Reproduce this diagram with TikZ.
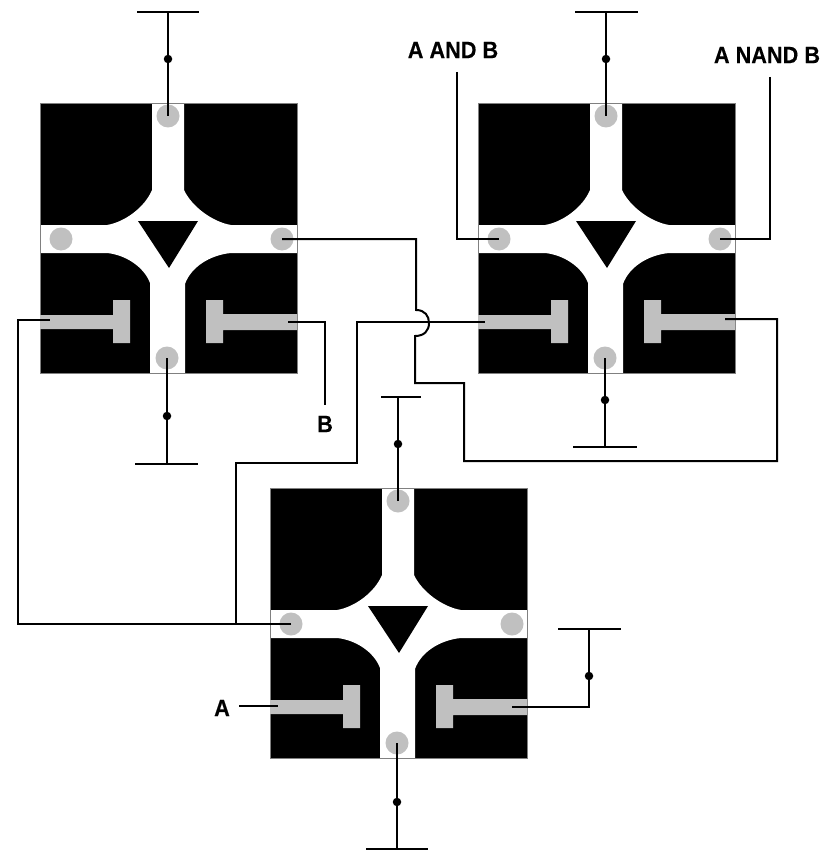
\documentclass[tikz,border=0pt]{standalone}
\usepackage{graphicx}
\usepackage{fontspec}
\setmainfont{Liberation Sans}[BoldFeatures={FakeBold=0.3}]
\definecolor{gategrey}{HTML}{C0C0C0}
\definecolor{edgegrey}{HTML}{808080}
\newcommand{\labeltext}[1]{\scalebox{1.01}[1.1]{#1}}
\tikzset{
  x=1pt,y=-1pt,
  wire/.style={line width=2pt,black,line join=miter},
  rail/.style={line width=2pt,black},
  contact/.style={circle,fill=gategrey,draw=none,inner sep=0pt,minimum size=23pt},
  tap/.style={circle,fill=black,draw=none,inner sep=0pt,minimum size=8.5pt},
  lab/.style={inner sep=0pt,font=\fontsize{21.5}{24}\selectfont\bfseries,text=black},
  body/.style={fill=black,draw=none},
  channel/.style={fill=white,draw=none},
  outline/.style={draw=edgegrey,line width=0.8pt},
  gate/.style={fill=gategrey,draw=none},
}
\newcommand{\fetdevice}[3]{%
\begin{scope}[shift={(#2,#3)}]
  \path[body] (40,103) rectangle (297,373);
  \path[channel] (152,103) -- (152,190) .. controls (145,207) and (125,222) .. (107,225)
    -- (40,225) -- (40,253) -- (107,253) .. controls (126,255) and (144,267) .. (150,283)
    -- (150,373) -- (185,373) -- (185,284) .. controls (191,267) and (210,255) .. (231,253)
    -- (297,253) -- (297,225) -- (231,225) .. controls (213,222) and (192,207) .. (184,190)
    -- (184,103) -- cycle;
  \path[outline] (40,103) rectangle (297,373);
  \fill[black] (138,221) -- (198,221) -- (169,268) -- cycle;
  \path[gate] (40,315) -- (113,315) -- (113,300) -- (130,300) -- (130,343) -- (113,343) -- (113,329) -- (40,329) -- cycle;
  \path[gate] (297,314) -- (223,314) -- (223,300) -- (206,300) -- (206,343) -- (223,343) -- (223,330) -- (297,330) -- cycle;
  \node[contact] (#1t) at (168,116) {};
  \node[contact] (#1b) at (167,358) {};
  \node[contact] (#1l) at (61,239) {};
  \node[contact] (#1r) at (282,239) {};
\end{scope}}
\begin{document}
\begin{tikzpicture}
\useasboundingbox (0,0) rectangle (825,853);
\fetdevice{da}{0}{0}
\fetdevice{db}{438}{0}
\fetdevice{dc}{230}{385}

% supply bars
\coordinate (aT1) at (137,12); \coordinate (aT2) at (199,12); \coordinate (aT) at (168,12);
\coordinate (aB1) at (135,464); \coordinate (aB2) at (198,464); \coordinate (aB) at (167,464);
\coordinate (bT1) at (575,12); \coordinate (bT2) at (638,12); \coordinate (bT) at (606,12);
\coordinate (bB1) at (573,447); \coordinate (bB2) at (637,447); \coordinate (bB) at (605,447);
\coordinate (cT1) at (381,397); \coordinate (cT2) at (421,397); \coordinate (cT) at (398,397);
\coordinate (cB1) at (366,849); \coordinate (cB2) at (428,849); \coordinate (cB) at (397,849);
\coordinate (cR1) at (558,629); \coordinate (cR2) at (621,629); \coordinate (cR) at (589,629);
\foreach \p in {aT,aB,bT,bB,cT,cB,cR}{\draw[rail] (\p1) -- (\p2);}

% gate wire ends
\coordinate (agl) at (50,320);
\coordinate (agr) at (288,322);
\coordinate (bgl) at (485,322);
\coordinate (bgr) at (725,319);
\coordinate (cgl) at (278,706);
\coordinate (cgr) at (512,707);
\coordinate (cin) at (239,706);
\coordinate (branch) at (236,624);
\coordinate (aend) at (325,405);
\coordinate (andend) at (457,72);
\coordinate (nandend) at (770,77);

% rails with taps
\draw[rail] (dat.center) -- (aT);
\draw[rail] (dab.center) -- (aB);
\draw[rail] (dbt.center) -- (bT);
\draw[rail] (dbb.center) -- (bB);
\draw[rail] (dct.center) -- (cT);
\draw[rail] (dcb.center) -- (cB);
\node[tap] (ta1) at (168,59) {};
\node[tap] (ta2) at (167,416) {};
\node[tap] (tb1) at (606,59) {};
\node[tap] (tb2) at (605,400) {};
\node[tap] (tc1) at (398,444) {};
\node[tap] (tc2) at (397,802) {};
\node[tap] (tc3) at (589,676) {};

% wires
\draw[wire] (cgr) -- (589,707) -- (cR);
\draw[wire] (cin) -- (cgl);
\draw[wire] (dcl.center) -- (18,624) -- (18,320) -- (agl);
\draw[wire] (branch) -- (236,463) -- (357,463) -- (357,322) -- (bgl);
\draw[wire] (agr) -- (325,322) -- (aend);
\draw[wire] (andend) -- (457,239) -- (dbl.center);
\draw[wire] (nandend) -- (770,239) -- (dbr.center);
\draw[wire] (dar.center) -- (416,239) -- (416,310)
  .. controls (425,310) and (429,316) .. (429,323)
  .. controls (429,331) and (424,336) .. (415,336)
  -- (415,383) -- (464,383) -- (464,461) -- (777,461) -- (777,319) -- (bgr);

% labels
\node[lab] (la) at (222,708) {\labeltext{A}};
\node[lab] (lb) at (325,424) {\labeltext{B}};
\node[lab] (land) at (453,50) {\labeltext{A AND B}};
\node[lab] (lnand) at (767,55) {\labeltext{A NAND B}};
\end{tikzpicture}
\end{document}
